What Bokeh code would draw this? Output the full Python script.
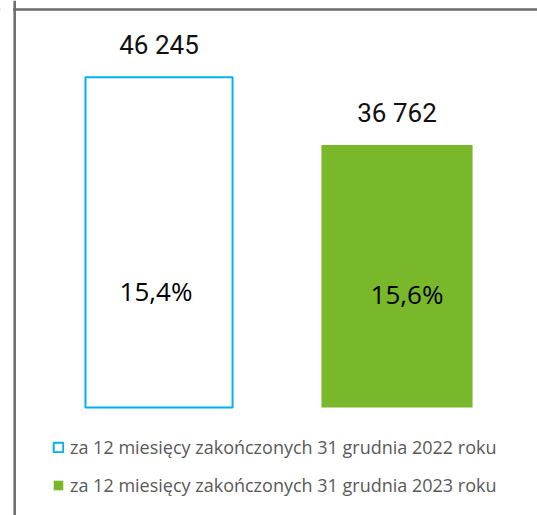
from bokeh.plotting import figure
from bokeh.models import Range1d, ColumnDataSource, Legend, LegendItem, Span
from bokeh.core.properties import value
from bokeh.embed import file_html
from bokeh.resources import INLINE

# ---- data ----
series_labels = ["za 12 miesięcy zakończonych 31 grudnia 2022 roku",
                 "za 12 miesięcy zakończonych 31 grudnia 2023 roku"]
values = [46245, 36762]
percent_labels = ["15,4%", "15,6%"]

W, H = 537, 515
UNITS_PER_PX = 140.0
PX_PER_CAT = 238.0
BASE_PX = 407  # baseline distance from top of figure
x_start = -158.5 / PX_PER_CAT
x_end = x_start + W / PX_PER_CAT
y_start = -(H - BASE_PX) * UNITS_PER_PX
y_end = BASE_PX * UNITS_PER_PX

p = figure(width=W, height=H, output_backend="svg", toolbar_location=None,
           x_range=Range1d(x_start, x_end), y_range=Range1d(y_start, y_end),
           min_border=0, min_border_left=0, min_border_right=0,
           min_border_top=0, min_border_bottom=0)
p.axis.visible = False
p.grid.visible = False
p.outline_line_color = None
p.background_fill_color = "white"
p.border_fill_color = "white"

# chart-area border (top and left edges visible in the crop)
p.add_layout(Span(location=y_end - 9 * UNITS_PER_PX, dimension="width",
                  line_color="#6b6b6b", line_width=2.5))
# blank out the bit of the top rule left of the frame edge
p.add_layout(Span(location=x_start + 6 / PX_PER_CAT, dimension="height",
                  line_color="white", line_width=13))
p.add_layout(Span(location=x_start + 14.2 / PX_PER_CAT, dimension="height",
                  line_color="#6b6b6b", line_width=2.5))

idx = list(range(len(values)))
src1 = ColumnDataSource(dict(x=[idx[0]], top=[values[0]]))
src2 = ColumnDataSource(dict(x=[idx[1]], top=[values[1]]))
r1 = p.vbar(x="x", top="top", bottom=0, width=0.618, source=src1,
            fill_color="white", line_color="#00B0F0", line_width=2)
r2 = p.vbar(x="x", top="top", bottom=0, width=0.635, source=src2,
            fill_color="#78B82A", line_color=None)

# value labels above bars
lab = ColumnDataSource(dict(x=idx, y=values,
                            t=[f"{v:,}".replace(",", " ") for v in values]))
p.text(x="x", y="y", text="t", source=lab, y_offset=-32,
       text_align="center", text_baseline="middle",
       text_font=value("Roboto"), text_font_size="26px", text_color="#111111")

# percent labels inside bars
pl = ColumnDataSource(dict(x=idx, y=[0, 0], t=percent_labels,
                           xo=[-3, 10], yo=[-117, -114]))
p.text(x="x", y="y", text="t", source=pl, x_offset="xo", y_offset="yo",
       text_align="center", text_baseline="middle",
       text_font=value("Open Sans"), text_font_size="26px", text_color="#000000")

legend = Legend(items=[LegendItem(label=series_labels[0], renderers=[r1]),
                       LegendItem(label=series_labels[1], renderers=[r2])],
                location=(52, 18), orientation="vertical",
                glyph_width=12, glyph_height=12, label_height=20, spacing=14,
                label_standoff=6, padding=0, margin=0,
                border_line_alpha=0, background_fill_alpha=0,
                label_text_font="Open Sans", label_text_font_size="18px",
                label_text_color="#595959")
p.add_layout(legend)

open("out.html", "w").write(file_html(p, INLINE))
